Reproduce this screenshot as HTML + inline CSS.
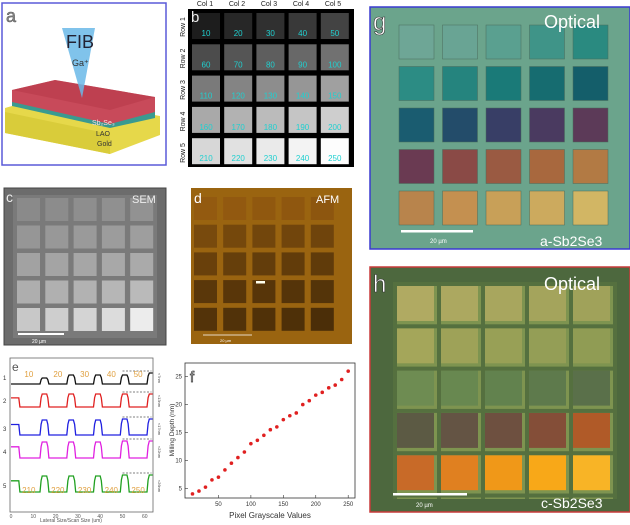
<!DOCTYPE html>
<html><head><meta charset="utf-8"><style>
html,body{margin:0;padding:0;background:#fff;}
svg{display:block;font-family:"Liberation Sans",sans-serif;}
</style></head><body>
<svg id="fig" width="630" height="525" viewBox="0 0 630 525" xmlns="http://www.w3.org/2000/svg">
<!-- panel a -->
<g>
<rect x="2" y="3" width="164" height="162" fill="#fff" stroke="#5a5ad8" stroke-width="1.5"/>
<text x="6" y="22" font-size="18" fill="#888" stroke="#555" stroke-width="0.5">a</text>
<polygon points="5,108 47,96 160,116 160,135 110,154 5,133" fill="#e6d84a"/>
<polygon points="5,112 110,134 110,154 5,133" fill="#d9cc3a"/>
<polygon points="12,98 55,88 155,108 155,118 110,128 12,106" fill="#3a9a90"/>
<polygon points="12,90 55,80 155,97 155,112 110,124 12,102" fill="#c84a5a"/>
<polygon points="12,90 55,80 155,97 110,110" fill="#b83a4a" opacity="0.6"/>
<polygon points="62,28 95,28 82,98" fill="#6ab8e8" opacity="0.85"/>
<text x="66" y="48" font-size="18" fill="#223">FIB</text>
<text x="72" y="66" font-size="9" fill="#333">Ga⁺</text>
<text x="92" y="125" font-size="7" fill="#fdd">Sb₂Se₃</text>
<text x="96" y="136" font-size="7" fill="#333">LAO</text>
<text x="97" y="146" font-size="7" fill="#333">Gold</text>
</g>
<!-- panel b -->
<g id="pb">
<rect x="188" y="9" width="166" height="158" fill="#000"/>
<g id="pbsq"></g>
<text x="191" y="22" font-size="15" fill="#eee">b</text>
</g>
<!-- panel c -->
<g id="pc">
<rect x="4" y="188" width="162" height="157" fill="#6c6c6c" stroke="#444"/>
<rect x="13" y="195" width="144" height="143" fill="#7a7a7a"/>
<g id="pcsq"></g>
<text x="6" y="202" font-size="14" fill="#eee">c</text>
<text x="132" y="203" font-size="11" fill="#eee">SEM</text>
<rect x="18" y="333" width="46" height="2" fill="#fff"/>
<text x="32" y="343" font-size="5" fill="#fff">20 µm</text>
</g>
<!-- panel d -->
<g id="pd">
<rect x="191" y="188" width="161" height="156" fill="#9a6410"/>
<g id="pdsq"></g>
<text x="194" y="203" font-size="14" fill="#fff">d</text>
<text x="316" y="203" font-size="11" fill="#fff">AFM</text>
<rect x="256" y="281" width="9" height="2.5" fill="#ffe"/>
<line x1="203" y1="335" x2="252" y2="335" stroke="#fff" stroke-width="0.7"/>
<text x="220" y="342" font-size="4" fill="#fff">20 µm</text>
</g>
<!-- panel g -->
<g id="pg">
<rect x="370" y="7" width="260" height="242" fill="#6ba48c" stroke="#3a3ad0" stroke-width="1.5"/>
<g id="pgsq"></g>
<text x="373" y="30" font-size="24" fill="#fff" stroke="#333" stroke-width="0.6">g</text>
<text x="544" y="28" font-size="18" fill="#fff">Optical</text>
<text x="540" y="246" font-size="14" fill="#fff">a-Sb2Se3</text>
<rect x="401" y="230" width="72" height="2.5" fill="#fff"/>
<text x="430" y="243" font-size="6" fill="#fff">20 µm</text>
</g>
<!-- panel h -->
<g id="ph">
<rect x="370" y="267" width="260" height="245" fill="#4d683e" stroke="#c83a3a" stroke-width="1.5"/>
<rect x="393" y="282" width="222" height="217" fill="#7e9450"/>
<g id="phsq"></g>
<text x="373" y="292" font-size="24" fill="#fff" stroke="#333" stroke-width="0.6">h</text>
<text x="544" y="290" font-size="18" fill="#fff">Optical</text>
<text x="541" y="508" font-size="14" fill="#fff">c-Sb2Se3</text>
<rect x="393" y="493" width="74" height="2.5" fill="#fff"/>
<text x="416" y="507" font-size="6" fill="#fff">20 µm</text>
</g>
<!-- panel e -->
<g id="pe">
<rect x="10" y="358" width="143" height="154" fill="#fff" stroke="#666" stroke-width="0.8"/>
<text x="12" y="371" font-size="12" fill="#555">e</text>
<text x="40" y="522" font-size="5" fill="#555">Lateral Size/Scan Size (um)</text>
</g>
<!-- panel f -->
<g id="pf">
<rect x="185" y="363" width="170" height="135" fill="#fff" stroke="#333" stroke-width="0.8"/>
<text x="190" y="382" font-size="15" fill="#fff" stroke="#444" stroke-width="0.8">f</text>
<text x="270" y="518" font-size="8" fill="#333" text-anchor="middle">Pixel Grayscale Values</text>
<text transform="translate(174,430) rotate(-90)" font-size="6.5" fill="#333" text-anchor="middle">Milling Depth (nm)</text>
</g>
</svg>
<script>
const NS="http://www.w3.org/2000/svg";
function mk(parent,tag,attrs){const e=document.createElementNS(NS,tag);for(const k in attrs)e.setAttribute(k,attrs[k]);parent.appendChild(e);return e;}

// ---- panel b data ----
const bValues=[10,20,30,40,50,60,70,80,90,100,110,120,130,140,150,160,170,180,190,200,210,220,230,240,250];
const bCols=["Col 1","Col 2","Col 3","Col 4","Col 5"];
const bRows=["Row 1","Row 2","Row 3","Row 4","Row 5"];
const pb=document.getElementById('pbsq');
bCols.forEach((c,i)=>{const t=mk(pb,'text',{x:205+i*32,y:6,'font-size':7,fill:'#222','text-anchor':'middle'});t.textContent=c;

});
bRows.forEach((r,j)=>{const t=mk(pb,'text',{transform:`translate(185,${27+j*31.5}) rotate(-90)`,'font-size':7,fill:'#222','text-anchor':'middle'});t.textContent=r;

});
bValues.forEach((v,k)=>{const i=k%5,j=Math.floor(k/5);const x=192+i*32.2,y=13+j*31.3;
const g=Math.round(20+v*0.93);
const r=mk(pb,'rect',{x:x,y:y,width:28,height:26,fill:`rgb(${g},${g},${g})`});


const t=mk(pb,'text',{x:x+14,y:y+23,'font-size':8,fill:'#20d0d0','text-anchor':'middle'});t.textContent=v;

});

// ---- panel c ----
const semGray=[138,140,142,144,146,150,152,154,156,158,162,164,166,168,170,174,176,178,182,186,200,206,212,220,236];
const pc=document.getElementById('pcsq');
semGray.forEach((g,k)=>{const i=k%5,j=Math.floor(k/5);
const r=mk(pc,'rect',{x:17+i*28.3,y:198+j*27.5,width:23,height:23,fill:`rgb(${g},${g},${g})`});

});

// ---- panel d ----
const afmShade=[0.98,0.97,0.96,0.95,0.94,0.8,0.78,0.76,0.75,0.74,0.7,0.68,0.66,0.65,0.64,0.6,0.59,0.58,0.57,0.56,0.55,0.54,0.53,0.52,0.5];
const pd=document.getElementById('pdsq');
afmShade.forEach((s,k)=>{const i=k%5,j=Math.floor(k/5);
const r=mk(pd,'rect',{x:194+i*29.2,y:197+j*27.7,width:23,height:23,fill:`rgb(${Math.round(150*s)},${Math.round(92*s)},${Math.round(16*s)})`});

});

// ---- panel g ----
const gColors=["#6ea696","#69a494","#5aa090","#3f9488","#2a8a80","#2c8c84","#25847e","#1a7a78","#166c70","#145e6a","#1a5c70","#234c6a","#383e66","#4a3a60","#5c3a58","#6a3a52","#8a4a46","#9a5a42","#a8683e","#b27a44","#b8844c","#c49050","#c8a058","#ccaa5e","#d2b664"];
const pg=document.getElementById('pgsq');
gColors.forEach((c,k)=>{const i=k%5,j=Math.floor(k/5);
const r=mk(pg,'rect',{x:399+i*43.5,y:25+j*41.5,width:35,height:34,fill:c,stroke:'#4a6a5a','stroke-width':0.5});

});

// ---- panel h ----
const hColors=["#b0aa62","#aca860","#a8a65e","#a4a45c","#a0a25a","#a4a65a","#9ea258","#98a056","#949e56","#909c54","#6e8c52","#688850","#62824e","#5e7a4c","#5a704a","#5c5a44","#645444","#6e5040","#844e38","#b05a28","#c86a28","#e08020","#f09818","#f8a818","#f8b426"];
const ph=document.getElementById('phsq');
hColors.forEach((c,k)=>{const i=k%5,j=Math.floor(k/5);
const r=mk(ph,'rect',{x:397+i*44,y:286+j*42.3,width:37,height:35,fill:c});

});
for(let i=0;i<6;i++){mk(ph,'rect',{x:393+i*44,y:282,width:4,height:217,fill:'#55703f'});mk(ph,'rect',{x:393,y:282+i*42.3,width:222,height:4,fill:'#55703f'});}

// ---- panel e ----
const ePeakPos=[15,27,39,51,63];
const eBase=[384,407,435,458,492];
const ePeak1=[6,9,9,9,11];
const ePeak2=[13,13,13,13,13];
const ePeak3=[15,15,15,16,16];
const ePeak4=[16,16,16,17,17];
const ePeak5=[16,16,16,17,17];
const eColors=["#111","#e02020","#2020e0","#e020e0","#20a020"];
const eLabels=["1","2","3","4","5"];
const eDepth=["≈7nm","≈13nm","≈17nm","≈22nm","≈26nm"];
const eTopLabels=["10","20","30","40","50"];
const eBotLabels=["210","220","230","240","250"];
const eLabelPos=[8,21,33,45,57];
const xS=v=>11+v*2.23;
const pe=document.getElementById('pe');
[0,10,20,30,40,50,60].forEach(v=>{const t=mk(pe,'text',{x:xS(v),y:518,'font-size':5,fill:'#555','text-anchor':'middle'});t.textContent=v;

});
[ePeak1,ePeak2,ePeak3,ePeak4,ePeak5].forEach((pk,n)=>{
  let d='';const b=eBase[n];
  for(let u=0;u<=63.5;u+=0.5){let y=b;ePeakPos.forEach((p,m)=>{const dd=Math.abs(u-p);if(dd<1.3)y=b-pk[m];else if(dd<2)y=b-pk[m]*(2-dd)/0.7;});
    if(n>0&&u<4)y=b-pk[0]*0.7;
    d+=(d?'L':'M')+xS(u).toFixed(1)+','+y.toFixed(1);}
  const p=mk(pe,'path',{d:d,fill:'none',stroke:eColors[n],'stroke-width':1.3});
  
  
  const t=mk(pe,'text',{x:3,y:b-4,'font-size':6,fill:'#333'});t.textContent=eLabels[n];
  
  
  mk(pe,'line',{x1:xS(50),x2:xS(63),y1:b-pk[4]-2,y2:b-pk[4]-2,stroke:'#555','stroke-dasharray':'2,1.5','stroke-width':0.7});
  const dt=mk(pe,'text',{transform:`translate(158,${b-6}) rotate(90)`,'font-size':4,fill:'#444','text-anchor':'middle'});dt.textContent=eDepth[n];
  
  
});
eTopLabels.forEach((s,i)=>{const t=mk(pe,'text',{x:xS(eLabelPos[i]),y:377,'font-size':8,fill:'#e0a040','text-anchor':'middle'});t.textContent=s;

});
eBotLabels.forEach((s,i)=>{const t=mk(pe,'text',{x:xS(eLabelPos[i]),y:493,'font-size':8,fill:'#e0a040','text-anchor':'middle'});t.textContent=s;

});

// ---- panel f ----
const fX=[10,20,30,40,50,60,70,80,90,100,110,120,130,140,150,160,170,180,190,200,210,220,230,240,250];
const fDepth=[4,4.5,5.2,6.5,7,8.3,9.5,10.5,11.5,13,13.6,14.5,15.5,16,17.3,18,18.5,20,20.7,21.7,22.2,23,23.5,24.5,26];
const fXTicks=[50,100,150,200,250];
const fYTicks=[5,10,15,20,25];
const fx=v=>186+v*0.6488;
const fy=v=>488.3-(v-5)*5.58;
const pf=document.getElementById('pf');
fXTicks.forEach(v=>{mk(pf,'line',{x1:fx(v),x2:fx(v),y1:498,y2:495,stroke:'#333','stroke-width':0.6});
const t=mk(pf,'text',{x:fx(v),y:506,'font-size':6,fill:'#333','text-anchor':'middle'});t.textContent=v;

});
fYTicks.forEach(v=>{mk(pf,'line',{x1:185,x2:188,y1:fy(v),y2:fy(v),stroke:'#333','stroke-width':0.6});
const t=mk(pf,'text',{x:182,y:fy(v)+2,'font-size':6,fill:'#333','text-anchor':'end'});t.textContent=v;

});
fX.forEach((v,i)=>{const c=mk(pf,'circle',{cx:fx(v),cy:fy(fDepth[i]),r:1.8,fill:'#e02020'});

});
</script>
</body></html>
